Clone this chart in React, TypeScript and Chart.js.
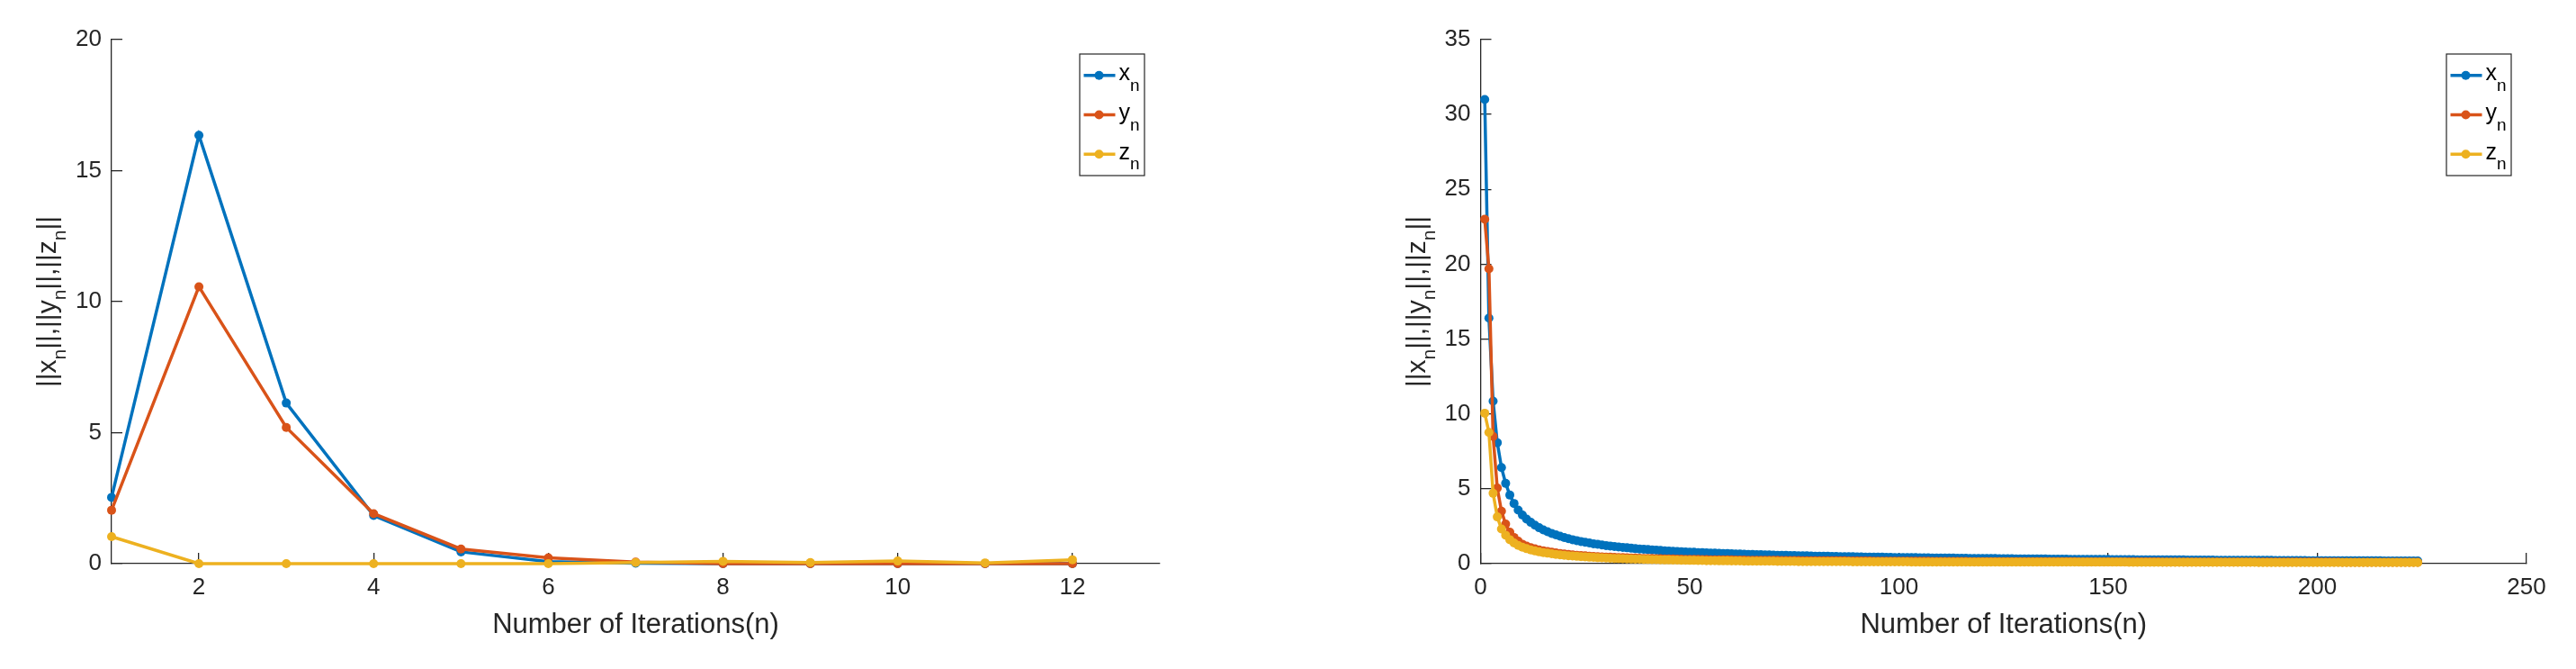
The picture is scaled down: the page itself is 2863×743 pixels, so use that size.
import React, { useEffect, useRef } from "react";
import { Chart, registerables } from "chart.js";

Chart.register(...registerables);

const FONT = "'Liberation Sans', Arial, Helvetica, sans-serif";
const AXIS_COLOR = "#262626";
const SERIES_COLORS = ["#0072BD", "#D95319", "#EDB120"];
const SERIES_LETTERS = ["x", "y", "z"];
const X_AXIS_TITLE = "Number of Iterations(n)";

// ---------- Left panel data ----------
const leftIterations = [1, 2, 3, 4, 5, 6, 7, 8, 9, 10, 11, 12];
const leftX = [2.53, 16.35, 6.13, 1.84, 0.45, 0.08, 0.02, 0.0, 0.0, 0.0, 0.0, 0.0];
const leftY = [2.04, 10.57, 5.2, 1.91, 0.56, 0.22, 0.06, 0.0, 0.0, 0.0, 0.0, 0.0];
const leftZ = [1.03, 0.0, 0.0, 0.0, 0.0, 0.0, 0.04, 0.09, 0.04, 0.1, 0.03, 0.15];
const leftXTicks = [2, 4, 6, 8, 10, 12];
const leftYTicks = [0, 5, 10, 15, 20];

// ---------- Right panel data ----------
const rightX = [
  31.0, 16.4, 10.85, 8.08, 6.42, 5.36, 4.58, 4.02, 3.58, 3.25,
  2.98, 2.76, 2.57, 2.4, 2.26, 2.13, 2.02, 1.92, 1.83, 1.74,
  1.67, 1.6, 1.54, 1.48, 1.43, 1.38, 1.33, 1.29, 1.25, 1.21,
  1.18, 1.14, 1.11, 1.08, 1.06, 1.03, 1.0, 0.98, 0.96, 0.94,
  0.92, 0.9, 0.88, 0.86, 0.84, 0.83, 0.81, 0.8, 0.78, 0.77,
  0.76, 0.74, 0.73, 0.72, 0.71, 0.7, 0.69, 0.68, 0.67, 0.66,
  0.65, 0.64, 0.63, 0.62, 0.61, 0.6, 0.6, 0.59, 0.58, 0.57,
  0.56, 0.56, 0.55, 0.54, 0.54, 0.53, 0.52, 0.52, 0.51, 0.5,
  0.5, 0.49, 0.49, 0.48, 0.48, 0.47, 0.47, 0.46, 0.46, 0.45,
  0.45, 0.44, 0.44, 0.43, 0.43, 0.43, 0.42, 0.42, 0.41, 0.41,
  0.41, 0.4, 0.4, 0.4, 0.39, 0.39, 0.39, 0.38, 0.38, 0.38,
  0.37, 0.37, 0.37, 0.36, 0.36, 0.36, 0.35, 0.35, 0.35, 0.34,
  0.34, 0.34, 0.34, 0.33, 0.33, 0.33, 0.33, 0.32, 0.32, 0.32,
  0.32, 0.31, 0.31, 0.31, 0.31, 0.3, 0.3, 0.3, 0.3, 0.3,
  0.29, 0.29, 0.29, 0.29, 0.29, 0.28, 0.28, 0.28, 0.28, 0.28,
  0.27, 0.27, 0.27, 0.27, 0.27, 0.27, 0.26, 0.26, 0.26, 0.26,
  0.26, 0.26, 0.25, 0.25, 0.25, 0.25, 0.25, 0.25, 0.24, 0.24,
  0.24, 0.24, 0.24, 0.24, 0.24, 0.23, 0.23, 0.23, 0.23, 0.23,
  0.23, 0.23, 0.22, 0.22, 0.22, 0.22, 0.22, 0.22, 0.22, 0.21,
  0.21, 0.21, 0.21, 0.21, 0.21, 0.21, 0.21, 0.2, 0.2, 0.2,
  0.2, 0.2, 0.2, 0.2, 0.2, 0.2, 0.19, 0.19, 0.19, 0.19,
  0.19, 0.19, 0.19, 0.19, 0.19, 0.18, 0.18, 0.18, 0.18, 0.18,
  0.18, 0.18, 0.18, 0.18,
];
const rightY = [
  23.0, 19.7, 8.5, 5.05, 3.5, 2.65, 2.1, 1.75, 1.5, 1.3,
  1.17, 1.07, 0.99, 0.92, 0.86, 0.81, 0.76, 0.72, 0.68, 0.64,
  0.61, 0.58, 0.56, 0.54, 0.52, 0.5, 0.48, 0.47, 0.45, 0.44,
  0.43, 0.42, 0.41, 0.4, 0.39, 0.38, 0.37, 0.36, 0.35, 0.35,
  0.34, 0.33, 0.33, 0.32, 0.31, 0.31, 0.3, 0.3, 0.29, 0.29,
  0.28, 0.28, 0.27, 0.27, 0.26, 0.26, 0.26, 0.25, 0.25, 0.25,
  0.24, 0.24, 0.24, 0.23, 0.23, 0.23, 0.23, 0.22, 0.22, 0.22,
  0.22, 0.21, 0.21, 0.21, 0.21, 0.21, 0.2, 0.2, 0.2, 0.2,
  0.2, 0.19, 0.19, 0.19, 0.19, 0.19, 0.19, 0.18, 0.18, 0.18,
  0.18, 0.18, 0.18, 0.17, 0.17, 0.17, 0.17, 0.17, 0.17, 0.17,
  0.16, 0.16, 0.16, 0.16, 0.16, 0.16, 0.16, 0.15, 0.15, 0.15,
  0.15, 0.15, 0.15, 0.15, 0.15, 0.15, 0.14, 0.14, 0.14, 0.14,
  0.14, 0.14, 0.14, 0.14, 0.14, 0.14, 0.13, 0.13, 0.13, 0.13,
  0.13, 0.13, 0.13, 0.13, 0.13, 0.13, 0.13, 0.13, 0.13, 0.13,
  0.13, 0.13, 0.12, 0.12, 0.12, 0.12, 0.12, 0.12, 0.12, 0.12,
  0.12, 0.12, 0.12, 0.12, 0.12, 0.12, 0.12, 0.12, 0.12, 0.12,
  0.12, 0.12, 0.11, 0.11, 0.11, 0.11, 0.11, 0.11, 0.11, 0.11,
  0.11, 0.11, 0.11, 0.11, 0.11, 0.11, 0.11, 0.11, 0.11, 0.11,
  0.11, 0.11, 0.11, 0.11, 0.1, 0.1, 0.1, 0.1, 0.1, 0.1,
  0.1, 0.1, 0.1, 0.1, 0.1, 0.1, 0.1, 0.1, 0.1, 0.1,
  0.1, 0.1, 0.1, 0.1, 0.1, 0.09, 0.09, 0.09, 0.09, 0.09,
  0.09, 0.09, 0.09, 0.09, 0.09, 0.09, 0.09, 0.09, 0.09, 0.09,
  0.09, 0.09, 0.09, 0.09,
];
const rightZ = [
  10.05, 8.77, 4.7, 3.12, 2.32, 1.9, 1.6, 1.38, 1.22, 1.1,
  1.0, 0.92, 0.85, 0.79, 0.74, 0.7, 0.66, 0.62, 0.59, 0.56,
  0.53, 0.51, 0.49, 0.47, 0.45, 0.43, 0.42, 0.4, 0.39, 0.38,
  0.36, 0.35, 0.34, 0.33, 0.32, 0.31, 0.3, 0.3, 0.29, 0.28,
  0.27, 0.27, 0.26, 0.25, 0.25, 0.24, 0.24, 0.23, 0.23, 0.22,
  0.22, 0.21, 0.21, 0.2, 0.2, 0.2, 0.19, 0.19, 0.19, 0.18,
  0.18, 0.18, 0.17, 0.17, 0.17, 0.17, 0.16, 0.16, 0.16, 0.16,
  0.15, 0.15, 0.15, 0.15, 0.15, 0.14, 0.14, 0.14, 0.14, 0.14,
  0.14, 0.13, 0.13, 0.13, 0.13, 0.13, 0.13, 0.13, 0.12, 0.12,
  0.12, 0.12, 0.12, 0.12, 0.12, 0.12, 0.12, 0.12, 0.12, 0.12,
  0.12, 0.12, 0.11, 0.11, 0.11, 0.11, 0.11, 0.11, 0.11, 0.11,
  0.11, 0.11, 0.11, 0.11, 0.11, 0.11, 0.11, 0.11, 0.11, 0.11,
  0.11, 0.11, 0.11, 0.1, 0.1, 0.1, 0.1, 0.1, 0.1, 0.1,
  0.1, 0.1, 0.1, 0.1, 0.1, 0.1, 0.1, 0.1, 0.1, 0.1,
  0.1, 0.1, 0.1, 0.1, 0.1, 0.1, 0.1, 0.1, 0.1, 0.1,
  0.1, 0.1, 0.1, 0.1, 0.09, 0.09, 0.09, 0.09, 0.09, 0.09,
  0.09, 0.09, 0.09, 0.09, 0.09, 0.09, 0.09, 0.09, 0.09, 0.09,
  0.09, 0.09, 0.09, 0.09, 0.09, 0.09, 0.09, 0.09, 0.09, 0.09,
  0.09, 0.09, 0.09, 0.09, 0.09, 0.08, 0.08, 0.08, 0.08, 0.08,
  0.08, 0.08, 0.08, 0.08, 0.08, 0.08, 0.08, 0.08, 0.08, 0.08,
  0.08, 0.08, 0.08, 0.08, 0.08, 0.08, 0.08, 0.08, 0.08, 0.08,
  0.08, 0.08, 0.08, 0.08, 0.08, 0.08, 0.08, 0.08, 0.08, 0.08,
  0.08, 0.08, 0.08, 0.08,
];
const rightIterations = rightX.map((_, i) => i + 1);
const rightXTicks = [0, 50, 100, 150, 200, 250];
const rightYTicks = [0, 5, 10, 15, 20, 25, 30, 35];

type Part = { t: string; sub?: boolean };

function drawParts(
  ctx: CanvasRenderingContext2D,
  parts: Part[],
  x: number,
  y: number,
  mainSize: number,
  subSize: number,
  subShift: number,
  align: "center" | "left"
) {
  const widths = parts.map((p) => {
    ctx.font = `${p.sub ? subSize : mainSize}px ${FONT}`;
    return ctx.measureText(p.t).width;
  });
  const total = widths.reduce((a, b) => a + b, 0);
  let cx = align === "center" ? x - total / 2 : x;
  ctx.textBaseline = "alphabetic";
  ctx.textAlign = "left";
  parts.forEach((p, i) => {
    ctx.font = `${p.sub ? subSize : mainSize}px ${FONT}`;
    ctx.fillText(p.t, cx, y + (p.sub ? subShift : 0));
    cx += widths[i];
  });
}

const yTitleParts: Part[] = [
  { t: "||x" }, { t: "n", sub: true },
  { t: "||,||y" }, { t: "n", sub: true },
  { t: "||,||z" }, { t: "n", sub: true },
  { t: "||" },
];

const annotationsPlugin = {
  id: "matlabExtras",
  afterDraw(chart: any) {
    const ctx: CanvasRenderingContext2D = chart.ctx;
    const area = chart.chartArea;
    ctx.save();
    // y axis title with subscripts
    ctx.fillStyle = AXIS_COLOR;
    ctx.translate(area.left - 62, (area.top + area.bottom) / 2);
    ctx.rotate(-Math.PI / 2);
    drawParts(ctx, yTitleParts, 0, 0, 30, 21, 11, "center");
    ctx.restore();

    // legend box
    ctx.save();
    const boxW = 72;
    const boxH = 135;
    const boxL = area.right - 89;
    const boxT = area.top + 16;
    ctx.fillStyle = "#ffffff";
    ctx.fillRect(boxL, boxT, boxW, boxH);
    ctx.strokeStyle = AXIS_COLOR;
    ctx.lineWidth = 1.2;
    ctx.strokeRect(boxL, boxT, boxW, boxH);
    chart.data.datasets.forEach((ds: any, i: number) => {
      const rowY = boxT + 23.7 + i * 43.8;
      ctx.strokeStyle = ds.borderColor;
      ctx.lineWidth = 3.5;
      ctx.beginPath();
      ctx.moveTo(boxL + 4.5, rowY);
      ctx.lineTo(boxL + 39.5, rowY);
      ctx.stroke();
      ctx.fillStyle = ds.borderColor;
      ctx.beginPath();
      ctx.arc(boxL + 21.5, rowY, 5, 0, Math.PI * 2);
      ctx.fill();
      ctx.fillStyle = "#000000";
      drawParts(
        ctx,
        [{ t: SERIES_LETTERS[i] }, { t: "n", sub: true }],
        boxL + 43.5,
        rowY + 5.6,
        25,
        19,
        11.5,
        "left"
      );
    });
    ctx.restore();
  },
};

type PanelSpec = {
  iterations: number[];
  series: number[][];
  xMin: number;
  xMax: number;
  xTicks: number[];
  yMin: number;
  yMax: number;
  yTicks: number[];
  yAxisWidth: number;
  padRight: number;
};

function makeConfig(spec: PanelSpec): any {
  const datasets = spec.series.map((vals, si) => ({
    label: SERIES_LETTERS[si] + "n",
    data: spec.iterations.map((n, i) => ({ x: n, y: vals[i] })),
    borderColor: SERIES_COLORS[si],
    backgroundColor: SERIES_COLORS[si],
    pointBackgroundColor: SERIES_COLORS[si],
    pointBorderColor: SERIES_COLORS[si],
    pointBorderWidth: 0,
    borderWidth: 3.5,
    pointRadius: 5,
    pointHoverRadius: 5,
    tension: 0,
    clip: false,
    order: 3 - si,
  }));
  const tickFont = { family: FONT, size: 26 };
  return {
    type: "line",
    data: { datasets },
    options: {
      responsive: false,
      maintainAspectRatio: false,
      animation: false,
      devicePixelRatio: 1,
      events: [],
      layout: { padding: { left: 0, right: spec.padRight, top: 44, bottom: 0 } },
      plugins: {
        legend: { display: false },
        tooltip: { enabled: false },
        title: { display: false },
      },
      scales: {
        x: {
          type: "linear",
          min: spec.xMin,
          max: spec.xMax,
          afterBuildTicks: (axis: any) => {
            axis.ticks = spec.xTicks.map((v) => ({ value: v }));
          },
          afterFit: (axis: any) => {
            axis.height = 117;
          },
          grid: {
            drawOnChartArea: false,
            drawTicks: true,
            tickLength: -12,
            color: AXIS_COLOR,
            lineWidth: 1.3,
          },
          border: { display: true, color: AXIS_COLOR, width: 1.3 },
          ticks: {
            color: AXIS_COLOR,
            font: tickFont,
            padding: 23,
            maxRotation: 0,
            autoSkip: false,
          },
          title: {
            display: true,
            text: X_AXIS_TITLE,
            color: AXIS_COLOR,
            font: { family: FONT, size: 31 },
            padding: { top: 0, bottom: 30 },
          },
        },
        y: {
          type: "linear",
          min: spec.yMin,
          max: spec.yMax,
          afterBuildTicks: (axis: any) => {
            axis.ticks = spec.yTicks.map((v) => ({ value: v }));
          },
          afterFit: (axis: any) => {
            axis.width = spec.yAxisWidth;
          },
          grid: {
            drawOnChartArea: false,
            drawTicks: true,
            tickLength: -12,
            color: AXIS_COLOR,
            lineWidth: 1.3,
          },
          border: { display: true, color: AXIS_COLOR, width: 1.3 },
          ticks: {
            color: AXIS_COLOR,
            font: tickFont,
            padding: 23,
            autoSkip: false,
          },
        },
      },
    },
    plugins: [annotationsPlugin],
  };
}

function Panel(props: { spec: PanelSpec; left: number; width: number }) {
  const ref = useRef<HTMLCanvasElement | null>(null);
  useEffect(() => {
    if (!ref.current) return;
    const chart = new Chart(ref.current, makeConfig(props.spec));
    return () => chart.destroy();
  }, []);
  return (
    <canvas
      ref={ref}
      width={props.width}
      height={743}
      style={{
        position: "absolute",
        left: props.left,
        top: 0,
        width: props.width,
        height: 743,
      }}
    />
  );
}

const leftSpec: PanelSpec = {
  iterations: leftIterations,
  series: [leftX, leftY, leftZ],
  xMin: 1,
  xMax: 13,
  xTicks: leftXTicks,
  yMin: 0,
  yMax: 20,
  yTicks: leftYTicks,
  yAxisWidth: 124,
  padRight: 142,
};

const rightSpec: PanelSpec = {
  iterations: rightIterations,
  series: [rightX, rightY, rightZ],
  xMin: 0,
  xMax: 250,
  xTicks: rightXTicks,
  yMin: 0,
  yMax: 35,
  yTicks: rightYTicks,
  yAxisWidth: 214.5,
  padRight: 55,
};

export default function App() {
  return (
    <div
      style={{
        position: "absolute",
        left: 0,
        top: 0,
        width: 2863,
        height: 743,
        background: "#ffffff",
        overflow: "hidden",
      }}
    >
      <Panel spec={leftSpec} left={0} width={1431} />
      <Panel spec={rightSpec} left={1431} width={1432} />
    </div>
  );
}
